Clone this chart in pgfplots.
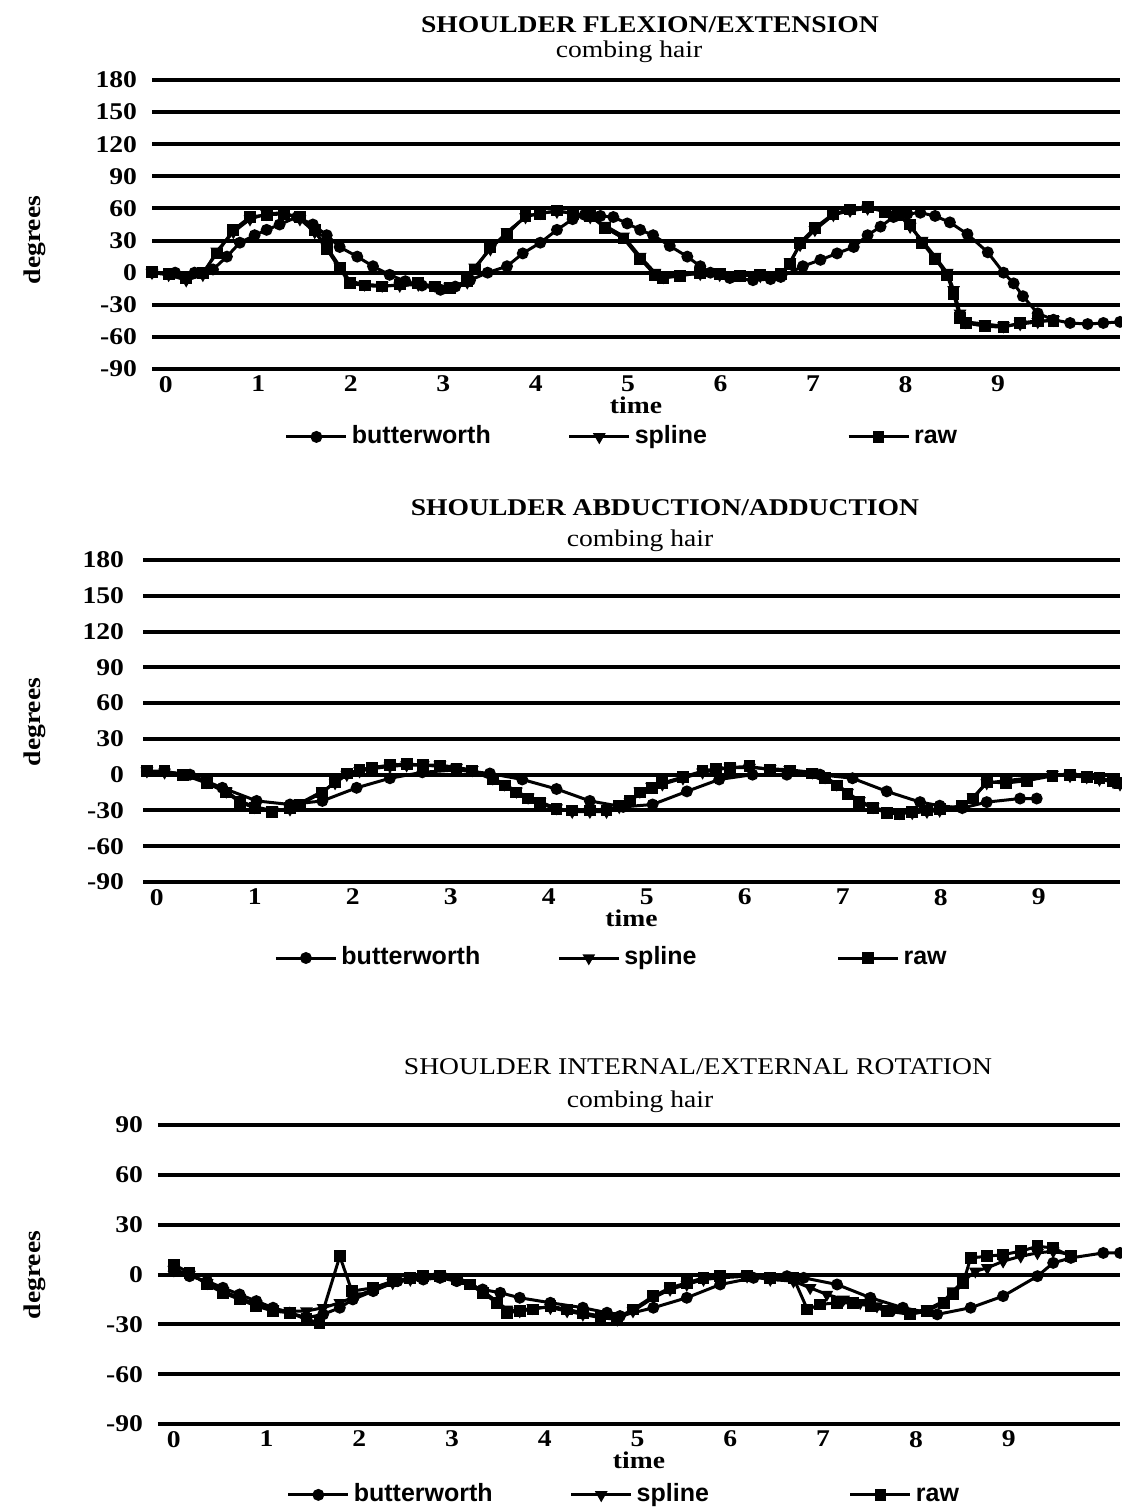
\documentclass[border=0pt]{standalone}
\usepackage{fontspec}
\setmainfont{Liberation Serif}[FakeStretch=1.15]
\setsansfont{Liberation Sans}
\usepackage{pgfplots}
\pgfplotsset{compat=1.18}

\pgfplotsset{
  panel/.style={
    scale only axis,
    axis line style={draw=none},
    ymajorgrids,
    grid style={black,line width=2pt},
    major tick length=0pt,
    xtick={0,...,9}, xticklabels={0,1,2,3,4,5,6,7,8,9},
    ticklabel style={font=\bfseries\fontsize{12}{12}\selectfont},
    legend columns=3,
    legend style={draw=none,fill=none,font=\sffamily\bfseries\fontsize{12.5}{14}\selectfont,anchor=center,inner sep=0pt,
      nodes={text height=9pt,text depth=2.5pt},
      /tikz/column 2/.style={column sep=36.5pt},/tikz/column 4/.style={column sep=68pt}},
    legend image code/.code={\draw[mark repeat=2,mark phase=2,##1] plot coordinates {(0pt,0pt) (15pt,0pt) (30pt,0pt)};},
    every axis plot/.append style={black,line width=1.5pt,mark size=2.2pt},
    xlabel=time,
    xlabel style={font=\bfseries\fontsize{12}{12}\selectfont,at={(axis description cs:0.5,0)},anchor=center,yshift=-18pt},
  },
  bw/.style={mark=*},
  sp/.style={mark=triangle*,every mark/.append style={rotate=180}},
  rw/.style={mark=square*},
}

\begin{document}
\begin{tikzpicture}
\path[use as bounding box] (0,0) rectangle (561pt,-755.5pt);

% ---------- titles ----------
\node[font=\bfseries\fontsize{12}{12}\selectfont] at (325pt,-12.5pt) {SHOULDER FLEXION/EXTENSION};
\node[font=\fontsize{12}{12}\selectfont] at (314.5pt,-26pt) {combing hair};
\node[font=\bfseries\fontsize{12}{12}\selectfont] at (332.5pt,-254pt) {SHOULDER ABDUCTION/ADDUCTION};
\node[font=\fontsize{12}{12}\selectfont] at (320pt,-270.5pt) {combing hair};
\node[font=\fontsize{12}{12}\selectfont] at (349pt,-533.5pt) {SHOULDER INTERNAL/EXTERNAL ROTATION};
\node[font=\fontsize{12}{12}\selectfont] at (320pt,-551pt) {combing hair};
\node[font=\bfseries\fontsize{12}{12}\selectfont,rotate=90] at (17.5pt,-120pt) {degrees};
\node[font=\bfseries\fontsize{12}{12}\selectfont,rotate=90] at (17.5pt,-361pt) {degrees};
\node[font=\bfseries\fontsize{12}{12}\selectfont,rotate=90] at (17.5pt,-637.5pt) {degrees};

% ---------- panel 1 ----------
\begin{axis}[panel, at={(76pt,-184.5pt)}, anchor=south west,
  width=484pt, height=144.5pt,
  xmin=-0.15, xmax=10.32, ymin=-90, ymax=180,
  ytick={-90,-60,...,180}, yticklabels={-90,-60,-30,0,30,60,90,120,150,180},
  yticklabel style={xshift=-4pt},
  legend style={at={(axis description cs:0.4866,-0.235)}}]
\addplot[bw] coordinates {(-0.15,0) (0.10,0) (0.31,0) (0.51,3) (0.66,15) (0.80,28) (0.96,35) (1.09,40) (1.23,45) (1.42,52) (1.59,45) (1.74,35) (1.88,24) (2.07,15) (2.24,6) (2.42,-2) (2.59,-8) (2.77,-12) (2.97,-16) (3.13,-13) (3.29,-7) (3.48,0) (3.69,6) (3.86,18) (4.05,28) (4.23,40) (4.40,50) (4.53,54) (4.70,53) (4.84,52) (4.99,46) (5.13,40) (5.27,35) (5.45,25) (5.64,15) (5.78,6) (5.89,0) (6.10,-5) (6.35,-7) (6.54,-6) (6.65,-4) (6.89,6) (7.08,12) (7.26,18) (7.44,24) (7.59,35) (7.73,43) (7.87,52) (8.02,55) (8.16,56) (8.32,53) (8.48,47) (8.67,36) (8.89,19) (9.06,0) (9.17,-10) (9.27,-22) (9.43,-38) (9.60,-44) (9.78,-47) (9.97,-48) (10.14,-47) (10.32,-46)};
\addlegendentry{butterworth}
\addplot[sp] coordinates {(-0.15,0) (0.03,-2) (0.22,-7) (0.40,-2) (0.55,20) (0.73,38) (0.91,50) (1.09,55) (1.28,56) (1.45,50) (1.61,38) (1.74,24) (1.88,6) (1.99,-8) (2.15,-11) (2.34,-12) (2.53,-12) (2.73,-11) (2.91,-12) (3.07,-13) (3.26,-9) (3.34,5) (3.51,22) (3.69,38) (3.89,52) (4.05,56) (4.23,57) (4.40,56) (4.59,52) (4.75,44) (4.95,34) (5.13,15) (5.29,0) (5.38,-4) (5.56,-2) (5.78,-1) (5.99,-2) (6.21,-2) (6.43,-3) (6.65,-2) (6.75,10) (6.86,26) (7.02,40) (7.22,54) (7.40,58) (7.59,60) (7.78,58) (7.92,55) (8.05,43) (8.18,30) (8.32,15) (8.45,0) (8.52,-16) (8.59,-38) (8.65,-46) (8.86,-48) (9.06,-50) (9.24,-48) (9.43,-46) (9.60,-44)};
\addlegendentry{spline}
\addplot[rw] coordinates {(-0.15,1) (0.03,-1) (0.22,-5) (0.40,0) (0.55,18) (0.73,40) (0.91,52) (1.09,54) (1.28,55) (1.45,52) (1.61,40) (1.74,22) (1.88,4) (1.99,-10) (2.15,-12) (2.34,-13) (2.53,-11) (2.73,-10) (2.91,-13) (3.07,-14) (3.26,-8) (3.34,3) (3.51,24) (3.69,36) (3.89,53) (4.05,55) (4.23,58) (4.40,55) (4.59,53) (4.75,42) (4.95,32) (5.13,13) (5.29,-2) (5.38,-5) (5.56,-3) (5.78,0) (5.99,-1) (6.21,-3) (6.43,-2) (6.65,-1) (6.75,8) (6.86,28) (7.02,42) (7.22,55) (7.40,59) (7.59,61) (7.78,57) (7.92,54) (8.05,45) (8.18,28) (8.32,13) (8.45,-2) (8.52,-20) (8.59,-42) (8.65,-47) (8.86,-50) (9.06,-51) (9.24,-47) (9.43,-45) (9.60,-45)};
\addlegendentry{raw}
\end{axis}

% ---------- panel 2 ----------
\begin{axis}[panel, at={(71.5pt,-441pt)}, anchor=south west,
  width=488.5pt, height=161pt,
  xmin=-0.14, xmax=9.83, ymin=-90, ymax=180,
  ytick={-90,-60,...,180}, yticklabels={-90,-60,-30,0,30,60,90,120,150,180},
  yticklabel style={xshift=-6pt},
  legend style={at={(axis description cs:0.4806,-0.236)}}]
\addplot[bw] coordinates {(-0.10,3) (0.34,0) (0.67,-11) (1.02,-22) (1.36,-25) (1.69,-22) (2.04,-11) (2.38,-3) (2.71,2) (3.06,4) (3.40,1) (3.73,-4) (4.08,-12) (4.42,-22) (4.76,-27) (5.06,-25) (5.41,-14) (5.74,-4) (6.08,0) (6.43,0) (6.77,0) (7.10,-3) (7.45,-14) (7.79,-23) (7.99,-26) (8.22,-28) (8.47,-23) (8.81,-20) (8.98,-20)};
\addlegendentry{butterworth}
\addplot[sp] coordinates {(-0.10,3) (0.08,2) (0.27,1) (0.51,-6) (0.71,-14) (0.85,-22) (1.00,-27) (1.18,-30) (1.36,-29) (1.46,-24) (1.69,-14) (1.82,-7) (1.94,0) (2.07,3) (2.20,5) (2.38,7) (2.55,8) (2.72,8) (2.89,8) (3.06,6) (3.22,4) (3.43,-3) (3.55,-8) (3.67,-14) (3.79,-19) (3.91,-23) (4.08,-28) (4.24,-31) (4.42,-31) (4.59,-31) (4.72,-27) (4.83,-23) (4.93,-14) (5.05,-10) (5.16,-8) (5.37,-3) (5.57,2) (5.71,4) (5.85,6) (6.05,6) (6.26,5) (6.46,4) (6.69,2) (6.82,-2) (6.94,-8) (7.05,-15) (7.17,-22) (7.31,-27) (7.45,-31) (7.58,-32) (7.71,-32) (7.86,-31) (7.99,-30) (8.22,-27) (8.33,-19) (8.47,-7) (8.67,-5) (8.88,-3) (9.14,0) (9.32,-1) (9.49,-2) (9.62,-4) (9.76,-6) (9.83,-8)};
\addlegendentry{spline}
\addplot[rw] coordinates {(-0.10,3) (0.08,3) (0.27,0) (0.51,-7) (0.71,-15) (0.85,-23) (1.00,-28) (1.18,-31) (1.36,-28) (1.46,-25) (1.69,-15) (1.82,-6) (1.94,1) (2.07,4) (2.20,6) (2.38,8) (2.55,9) (2.72,8) (2.89,7) (3.06,5) (3.22,3) (3.43,-4) (3.55,-9) (3.67,-15) (3.79,-20) (3.91,-24) (4.08,-29) (4.24,-30) (4.42,-30) (4.59,-30) (4.72,-26) (4.83,-22) (4.93,-15) (5.05,-11) (5.16,-7) (5.37,-2) (5.57,3) (5.71,5) (5.85,6) (6.05,7) (6.26,4) (6.46,3) (6.69,1) (6.82,-3) (6.94,-9) (7.05,-16) (7.17,-23) (7.31,-28) (7.45,-32) (7.58,-33) (7.71,-31) (7.86,-30) (7.99,-29) (8.22,-26) (8.33,-20) (8.47,-6) (8.67,-7) (8.88,-5) (9.14,-1) (9.32,0) (9.49,-2) (9.62,-3) (9.76,-5) (9.83,-7)};
\addlegendentry{raw}
\end{axis}

% ---------- panel 3 ----------
\begin{axis}[panel, at={(79pt,-712pt)}, anchor=south west,
  width=481pt, height=149.5pt,
  xmin=-0.17, xmax=10.2, ymin=-90, ymax=90,
  ytick={-90,-60,...,90}, yticklabels={-90,-60,-30,0,30,60,90},
  yticklabel style={xshift=-4pt},
  legend style={at={(axis description cs:0.4854,-0.237)}}]
\addplot[bw] coordinates {(0.00,2) (0.17,-1) (0.36,-4) (0.53,-8) (0.71,-12) (0.89,-16) (1.07,-20) (1.25,-23) (1.43,-26) (1.61,-24) (1.79,-20) (1.93,-15) (2.15,-10) (2.41,-4) (2.69,-3) (2.87,-2) (3.05,-4) (3.33,-9) (3.52,-11) (3.73,-14) (4.06,-17) (4.41,-20) (4.67,-23) (4.81,-25) (5.17,-20) (5.53,-14) (5.89,-6) (6.25,-2) (6.61,-1) (6.79,-2) (7.15,-6) (7.51,-14) (7.86,-20) (8.23,-24) (8.59,-20) (8.94,-13) (9.31,-1) (9.48,7) (9.67,10) (10.02,13) (10.20,13)};
\addlegendentry{butterworth}
\addplot[sp] coordinates {(0.00,3) (0.17,0) (0.36,-5) (0.53,-10) (0.71,-14) (0.89,-18) (1.07,-21) (1.25,-22) (1.43,-22) (1.61,-20) (1.79,-17) (1.97,-13) (2.15,-9) (2.36,-5) (2.55,-3) (2.69,-2) (2.87,-1) (3.05,-2) (3.19,-5) (3.33,-10) (3.48,-16) (3.59,-21) (3.73,-22) (3.87,-20) (4.06,-20) (4.24,-22) (4.41,-24) (4.60,-26) (4.78,-27) (4.95,-22) (5.17,-14) (5.35,-9) (5.53,-6) (5.71,-3) (5.89,-2) (6.18,-1) (6.43,-3) (6.68,-4) (6.86,-8) (7.04,-12) (7.22,-15) (7.40,-17) (7.58,-19) (7.76,-21) (7.94,-23) (8.12,-21) (8.30,-16) (8.40,-10) (8.51,-4) (8.64,2) (8.77,4) (8.94,8) (9.13,11) (9.31,13) (9.48,14) (9.67,12)};
\addlegendentry{spline}
\addplot[rw] coordinates {(0.00,6) (0.17,1) (0.36,-6) (0.53,-11) (0.71,-15) (0.89,-19) (1.07,-22) (1.25,-23) (1.43,-27) (1.57,-29) (1.79,11) (1.92,-10) (2.15,-8) (2.36,-4) (2.55,-2) (2.69,-1) (2.87,-1) (3.05,-3) (3.19,-6) (3.33,-11) (3.48,-17) (3.59,-23) (3.73,-22) (3.87,-21) (4.06,-19) (4.24,-21) (4.41,-23) (4.60,-25) (4.78,-26) (4.95,-21) (5.17,-13) (5.35,-8) (5.53,-5) (5.71,-2) (5.89,-1) (6.18,-1) (6.43,-2) (6.68,-2) (6.83,-21) (6.97,-18) (7.15,-17) (7.32,-17) (7.51,-19) (7.69,-22) (7.94,-24) (8.12,-22) (8.30,-17) (8.40,-12) (8.51,-5) (8.59,10) (8.77,11) (8.94,12) (9.13,14) (9.31,17) (9.48,16) (9.67,11)};
\addlegendentry{raw}
\end{axis}
\end{tikzpicture}
\end{document}
